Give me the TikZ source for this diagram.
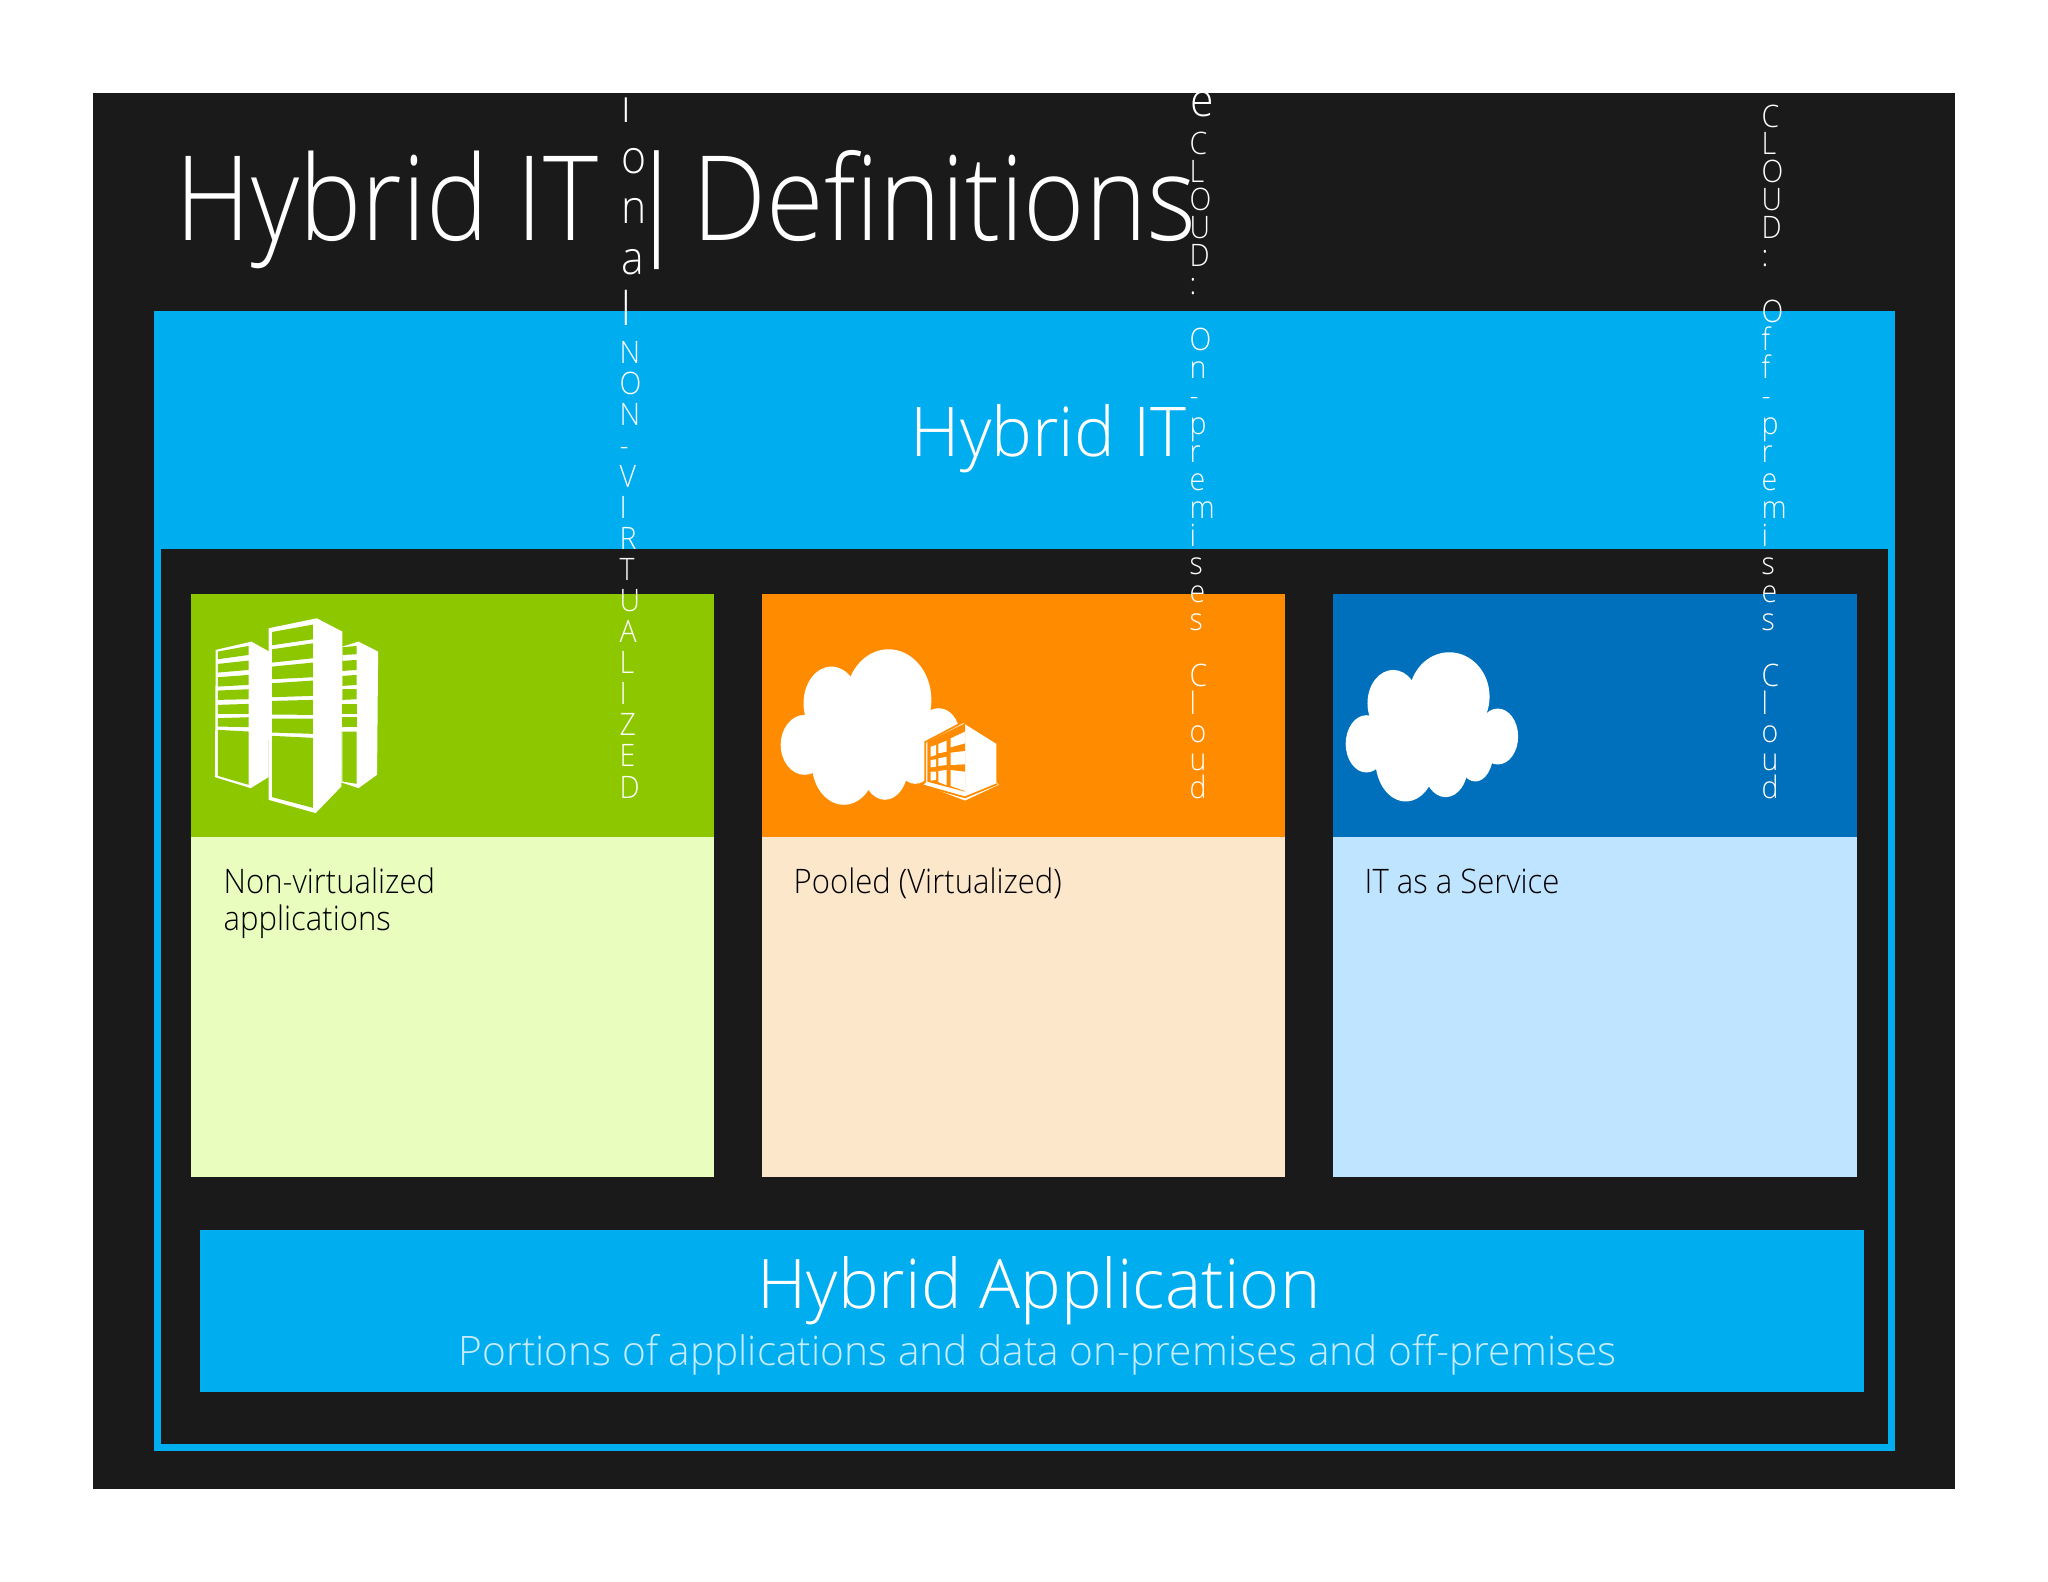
\documentclass[tikz,border=0pt]{standalone}
\usepackage{fontspec}
\setmainfont{Open Sans Light}
\newfontfamily\titlefont{Open Sans Light}[FakeStretch=0.89,WordSpace=0.7]
\newfontfamily\narrowfont{Open Sans Light}[FakeStretch=0.92]
\usepackage{xcolor}
\definecolor{pagedark}{HTML}{1A1A1A}
\definecolor{bandblue}{HTML}{00ADEF}
\definecolor{greenhead}{HTML}{8CC700}
\definecolor{greenbody}{HTML}{E8FDBE}
\definecolor{orangehead}{HTML}{FF8C00}
\definecolor{orangebody}{HTML}{FDE7CB}
\definecolor{bluehead}{HTML}{0070BC}
\definecolor{bluebody}{HTML}{BFE4FF}
\definecolor{subtext}{HTML}{C6ECFF}
\newcommand{\tightlines}{\lineskiplimit=-100pt\relax}

\begin{document}
\begin{tikzpicture}[
  x=0.01cm, y=-0.01cm,
  bigtext/.style={anchor=base west, inner sep=0pt, text=white},
  cardtext/.style={anchor=base west, inner sep=0pt, text=black, align=left,
    font=\narrowfont\fontsize{9.6}{10.4}\selectfont},
  stack/.style={anchor=base west, inner sep=0pt, text=white, align=left,
    font=\narrowfont\fontsize{8.8}{7.95}\selectfont\tightlines},
  tallstack/.style={stack, font=\narrowfont\fontsize{8.8}{8.82}\selectfont\tightlines},
  largestack/.style={stack, font=\narrowfont\fontsize{13.2}{14.37}\selectfont\tightlines},
  iconfront/.style={xscale=0.357, yscale=0.333},
  iconzoom/.style={scale=0.3333},
]
\useasboundingbox (0,0) rectangle (2048,1582);
\fill[pagedark] (93,93) rectangle (1955,1489);
\fill[bandblue] (154,311) rectangle (1895,1451);
\fill[pagedark] (161,549) rectangle (1888,1444);

\fill[greenhead] (191,594) rectangle (714,837);
\fill[greenbody] (191,837) rectangle (714,1177);
\fill[orangehead] (762,594) rectangle (1285,837);
\fill[orangebody] (762,837) rectangle (1285,1177);
\fill[bluehead] (1333,594) rectangle (1857,837);
\fill[bluebody] (1333,837) rectangle (1857,1177);
\fill[bandblue] (200,1230) rectangle (1864,1392);

\begin{scope}[shift={(180,590)}, iconfront]
  \fill[white] (455,170) -- (500,155) -- (555,185) -- (552,555) -- (500,595) -- (452,578) -- cycle;
  \foreach \a/\b/\c/\d in {172/168/193/195,213/210/240/243,258/255/285/288,298/298/328/330,342/342/372/372,382/382/412/412,425/425/582/575}
    \fill[greenhead] (455,\a) -- (495,\b) -- (495,\c) -- (455,\d) -- cycle;
  \fill[white] (100,180) -- (200,155) -- (250,185) -- (248,562) -- (198,595) -- (98,562) -- cycle;
  \foreach \a/\b/\c/\d in {185/168/195/208,222/212/240/248,262/255/285/290,302/298/328/330,345/342/372/372,385/382/412/410,420/425/585/558}
    \fill[greenhead] (106,\a) -- (192,\b) -- (192,\c) -- (106,\d) -- cycle;
  \fill[white] (248,115) -- (383,85) -- (455,125) -- (452,590) -- (380,670) -- (248,630) -- cycle;
  \foreach \a/\b/\c/\d in {126/104/148/166,178/160/205/218,230/218/262/268,280/272/318/322,333/330/375/374,386/386/432/428,438/444/654/622}
    \fill[greenhead] (258,\a) -- (372,\b) -- (372,\c) -- (258,\d) -- cycle;
\end{scope}

\begin{scope}[shift={(760,590)}, iconfront]
  \fill[white] (360,330) ellipse (120 and 152);
  \fill[white] (200,340) ellipse (78 and 110);
  \fill[white] (125,465) ellipse (67 and 90);
  \fill[white] (235,520) ellipse (90 and 125);
  \fill[white] (350,530) ellipse (65 and 100);
  \fill[white] (435,500) ellipse (55 and 82);
  \fill[white] (500,430) ellipse (58 and 75);
  \fill[white] (320,420) ellipse (150 and 150);
\end{scope}

\begin{scope}[shift={(910,710)}, iconzoom]
  \fill[white, draw=orangehead, line width=0.5pt] (160,36) -- (262,100) -- (262,215) -- (272,225) -- (165,275) -- (35,225) -- (46,215) -- (46,96) -- cycle;
  \fill[orangehead] (52,95) -- (165,40) -- (165,245) -- (52,215) -- cycle;
  \foreach \xa/\xb/\a/\b/\c/\d in {62/78/110/105/135/140,85/110/102/92/125/130,122/165/85/65/100/112,62/78/150/148/170/172,85/110/145/140/165/168,122/165/128/123/163/165,62/78/185/185/210/212,85/110/183/180/226/216,122/165/180/185/243/228}
    \fill[white] (\xa,\a) -- (\xb,\b) -- (\xb,\c) -- (\xa,\d) -- cycle;
  \draw[orangehead, line width=0.5pt] (45,228) -- (165,262) -- (262,222);
\end{scope}

\begin{scope}[shift={(1320,590)}, iconfront]
  \fill[white] (362,320) ellipse (113 and 133);
  \fill[white] (205,340) ellipse (72 and 100);
  \fill[white] (130,462) ellipse (58 and 86);
  \fill[white] (240,510) ellipse (85 and 125);
  \fill[white] (352,530) ellipse (62 and 92);
  \fill[white] (435,490) ellipse (50 and 85);
  \fill[white] (498,440) ellipse (57 and 84);
  \fill[white] (310,420) ellipse (150 and 150);
\end{scope}

\node[bigtext, font=\titlefont\fontsize{33.5}{40}\selectfont] (title) at (175,241) {Hybrid\hspace{2.6pt} IT\hspace{3.3pt} |\hspace{-3.3pt} Definitions};
\node[bigtext, font=\fontsize{19.5}{24}\selectfont] (hybridit) at (910,456) {Hybrid IT};
\node[bigtext, font=\fontsize{19.45}{22}\selectfont] (hybridapp) at (757,1308) {Hybrid Application};
\node[bigtext, text=subtext, font=\fontsize{11.56}{14}\selectfont] (portions) at (458,1365) {Portions of applications and data on-premises and off-premises};

\node[cardtext] (lblnon) at (223,930) {Non-virtualized\\applications};
\node[cardtext] (lblpool) at (793,893) {Pooled (Virtualized)};
\node[cardtext] (lblsaas) at (1364,893) {IT as a Service};

\node[largestack] (stackional) at (621,325) {i\\o\\n\\a\\l};
\node[tallstack] (stacknon) at (619,798) {N\\O\\N\\-\\V\\I\\R\\T\\U\\A\\L\\I\\Z\\E\\D};
\node[largestack] (stacke) at (1190,117) {e};
\node[stack] (stackon) at (1189,798) {C\\L\\O\\U\\D\\:\\{}\\O\\n\\-\\p\\r\\e\\m\\i\\s\\e\\s\\{}\\C\\l\\o\\u\\d};
\node[stack] (stackoff) at (1761,798) {C\\L\\O\\U\\D\\:\\{}\\O\\f\\f\\-\\p\\r\\e\\m\\i\\s\\e\\s\\{}\\C\\l\\o\\u\\d};
\end{tikzpicture}
\end{document}
